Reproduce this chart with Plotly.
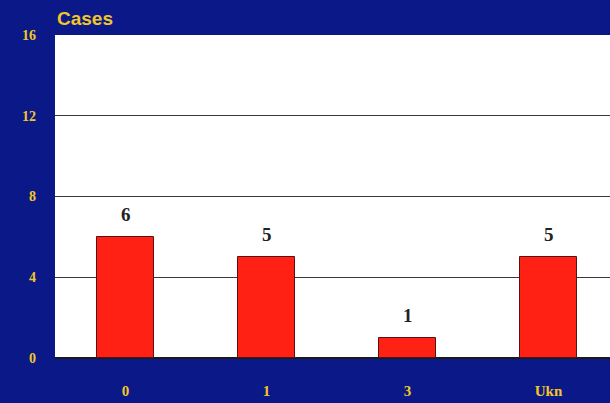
import plotly.graph_objects as go

categories = ["0", "1", "3", "Ukn"]
cases = [6, 5, 1, 5]
y_ticks = [0, 4, 8, 12, 16]

bg = "#0a1888"
yellow = "#f2c62a"

fig = go.Figure()
fig.add_trace(go.Bar(
    x=list(range(len(categories))),
    y=cases,
    width=0.40,
    marker=dict(color="#ff2214", line=dict(color="#5a1010", width=1)),
    hoverinfo="skip",
))

for i, v in enumerate(cases):
    fig.add_annotation(
        x=i, y=v, text=str(v), showarrow=False,
        xanchor="center", yanchor="bottom", yshift=10,
        font=dict(family="Liberation Serif", size=19, color="#222222", weight="bold"),
    )

fig.update_layout(
    width=610, height=403,
    margin=dict(l=55, r=0, t=35, b=45),
    paper_bgcolor=bg,
    plot_bgcolor="#ffffff",
    showlegend=False,
    bargap=0,
    title=dict(text="Cases", x=57/610, xref="container", xanchor="left",
               y=1 - 18/403, yref="container", yanchor="middle",
               font=dict(family="Liberation Sans", size=19, color=yellow, weight="bold")),
)
fig.update_xaxes(
    range=[-0.5, 3.436],
    tickvals=list(range(len(categories))),
    ticktext=categories,
    showgrid=False, zeroline=False, showline=False,
    ticks="", ticklabelstandoff=22,
    tickfont=dict(family="Liberation Serif", size=15, color=yellow, weight="bold"),
)
fig.update_yaxes(
    range=[0, 16],
    tickvals=y_ticks,
    showgrid=True, gridcolor="#3a3a3a", gridwidth=1,
    zeroline=True, zerolinecolor="#1a1a1a", zerolinewidth=1.5,
    showline=False,
    ticks="", ticklabelstandoff=18,
    tickfont=dict(family="Liberation Serif", size=14, color=yellow, weight="bold"),
)

fig.write_html("out.html", config={"displayModeBar": False},
               post_script="document.body.style.margin='0';document.body.style.background='#0a1888';")
